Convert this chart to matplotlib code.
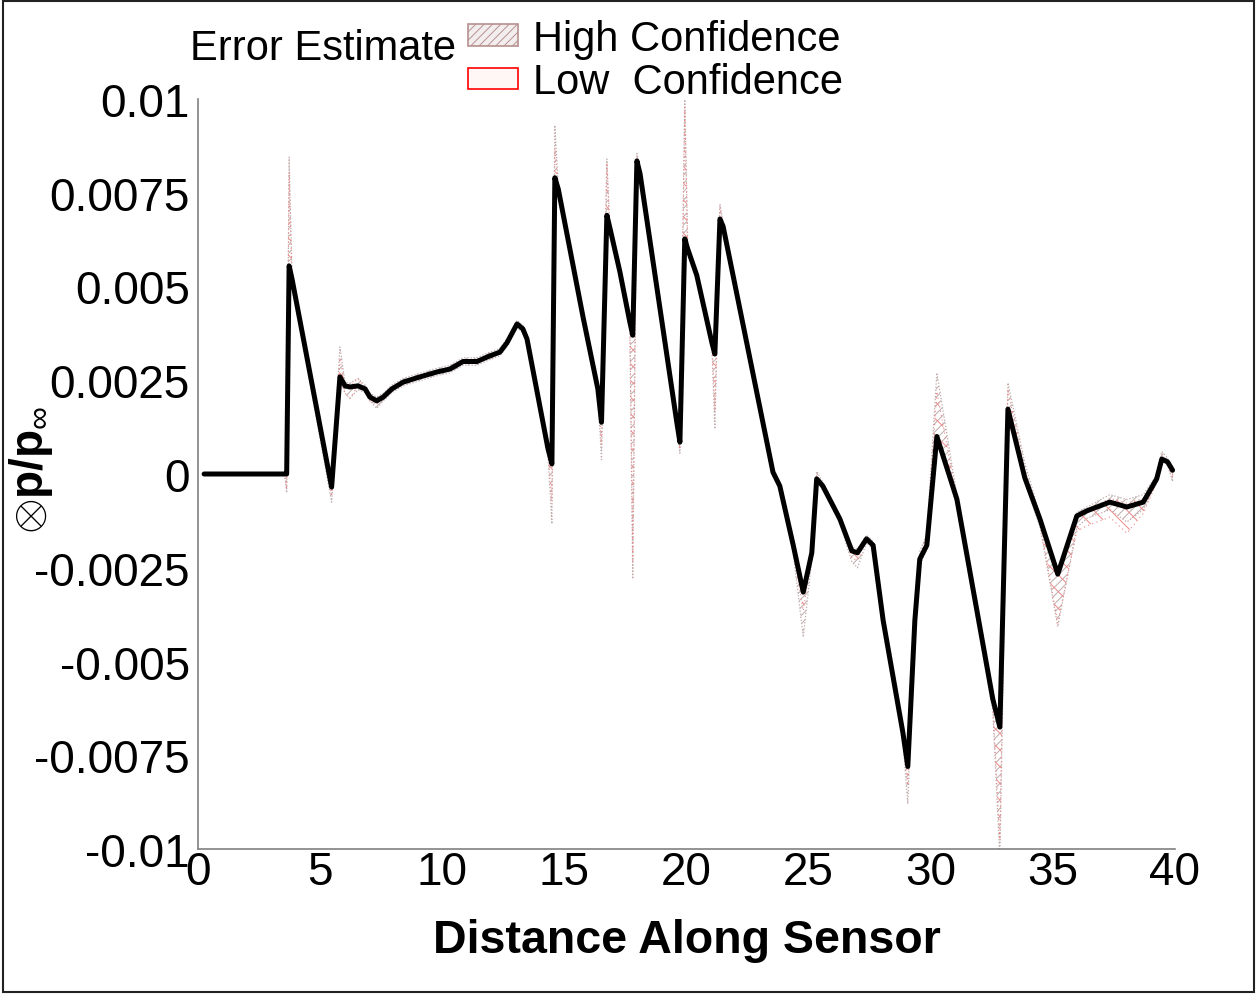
import numpy as np
import matplotlib
matplotlib.use('Agg')
import matplotlib.pyplot as plt
from matplotlib.patches import Patch, Rectangle

plt.rcParams['font.family'] = ['Liberation Sans', 'DejaVu Sans']
plt.rcParams['mathtext.fontset'] = 'custom'
plt.rcParams['mathtext.rm'] = 'Liberation Sans'
plt.rcParams['mathtext.bf'] = 'Liberation Sans:bold'
plt.rcParams['hatch.linewidth'] = 0.7

# sensor position and mean pressure signal
dist = [0.25, 3.55, 3.63, 3.73, 3.85, 5.47, 5.81, 6.02, 6.22, 6.55, 6.84, 7.04, 7.32,
        7.58, 7.94, 8.4, 9.09, 9.78, 10.32, 10.85, 11.42, 11.95, 12.36, 12.65, 13.06,
        13.3, 13.47, 14.33, 14.49, 14.61, 14.75, 15.76, 16.37, 16.52, 16.74, 16.85,
        17.27, 17.68, 17.8, 17.97, 18.1, 19.6, 19.73, 19.93, 20.05, 20.42, 21.04,
        21.16, 21.37, 21.5, 23.54, 23.82, 24.37, 24.78, 25.13, 25.33, 25.58, 26.28,
        26.77, 27.0, 27.37, 27.64, 28.05, 28.86, 29.06, 29.35, 29.55, 29.84, 30.25,
        31.07, 32.54, 32.83, 33.16, 33.85, 34.47, 35.2, 35.98, 36.4, 37.33, 38.03,
        38.7, 39.25, 39.46, 39.7, 39.9]
dp = [0.0, 0.0, 0.0, 0.00555, 0.0052, -0.00035, 0.00259, 0.00235, 0.00232, 0.00235,
      0.00227, 0.00205, 0.00195, 0.00205, 0.00227, 0.00245, 0.00259, 0.00272, 0.0028,
      0.003, 0.003, 0.00315, 0.00325, 0.0035, 0.004, 0.00387, 0.0036, 0.00067, 0.00027,
      0.0079, 0.0076, 0.0042, 0.00227, 0.00138, 0.0069, 0.0066, 0.0054, 0.00405,
      0.0037, 0.00835, 0.008, 0.00139, 0.00085, 0.00627, 0.006, 0.0053, 0.0035,
      0.0032, 0.0068, 0.0066, 0.00005, -0.00032, -0.0019, -0.00315, -0.0021,
      -0.00013, -0.00032, -0.0012, -0.00205, -0.0021, -0.00173, -0.0019, -0.0039,
      -0.0069, -0.0078, -0.0039, -0.00227, -0.0019, 0.001, -0.00067, -0.006, -0.00675,
      0.00173, -0.0001, -0.0012, -0.00267, -0.00112, -0.00098, -0.00075, -0.00088,
      -0.00075, -0.00013, 0.0004, 0.00032, 0.0001]

# high confidence error band (spread below / above the signal)
hi_dn = [0, 0, 0.0005, 0, 0.0001, 0.0004, 0, 0.0002, 0.0003, 0.0001, 0.0001, 0.0001,
         0.0002, 0.0001, 0.0001, 0.0001, 0.0001, 0.0001, 0.0001, 0.0001, 0.0001, 0.0001,
         0.0001, 0.0001, 0.0001, 0.0001, 0.0001, 0.0002, 0.0016, 0, 0.0001, 0.0001,
         0.0001, 0.001, 0, 0.0001, 0.0001, 0.0001, 0.0065, 0, 0.0001, 0.0001, 0.0003, 0,
         0.0001, 0.0001, 0.0001, 0.002, 0, 0.0001, 0.0001, 0.0001, 0.0002, 0.0012,
         0.0002, 0, 0.0001, 0.0001, 0.0003, 0.0004, 0.0001, 0.0001, 0.0002, 0.0002,
         0.001, 0.0002, 0.0002, 0.0001, 0, 0.0002, 0.0003, 0.0035, 0, 0.0001, 0.0002,
         0.0014, 0.0003, 0.0002, 0.0002, 0.0004, 0.0002, 0.0001, 0, 0.0001, 0.0003]
hi_up = [0, 0, 0, 0.0029, 0.0001, 0, 0.0008, 0.0001, 0.0001, 0.0002, 0.0001, 0.0001,
         0.0001, 0.0001, 0.0001, 0.0001, 0.0001, 0.0001, 0.0001, 0.0001, 0.0001, 0.0001,
         0.0001, 0.0001, 0.0001, 0.0001, 0.0001, 0.0001, 0, 0.0014, 0.0001, 0.0001,
         0.0001, 0.0001, 0.0015, 0.0001, 0.0001, 0.0001, 0.0001, 0.0002, 0.0001, 0.0001,
         0.0001, 0.0038, 0.0001, 0.0001, 0.0001, 0.0001, 0.0004, 0.0001, 0.0001, 0.0001,
         0.0001, 0.0001, 0.0001, 0.0002, 0.0001, 0.0001, 0.0001, 0.0001, 0.0001, 0.0001,
         0.0001, 0.0001, 0.0001, 0.0001, 0.0002, 0.0003, 0.0017, 0.0001, 0.0001, 0.0001,
         0.0007, 0.0004, 0.0001, 0.0001, 0.0001, 0.0001, 0.0002, 0.0002, 0.0002, 0.0001,
         0.0002, 0.0001, 0]

# low confidence error band
lo_dn = [0, 0, 0.0004, 0, 0, 0.0002, 0, 0.0002, 0.0003, 0, 0, 0.0001, 0.0001, 0, 0, 0,
         0, 0, 0, 0, 0, 0, 0, 0, 0, 0, 0, 0.0001, 0.001, 0, 0, 0, 0, 0.0006, 0, 0, 0, 0,
         0.006, 0, 0, 0, 0.0002, 0, 0, 0, 0, 0.0015, 0, 0, 0, 0, 0.0001, 0.0005, 0, 0, 0,
         0, 0.0002, 0.0002, 0, 0, 0.0001, 0.0001, 0.0005, 0.0001, 0.0001, 0, 0, 0.0001,
         0.0002, 0.003, 0, 0, 0.0001, 0.0013, 0.0004, 0.0004, 0.0004, 0.0007, 0.0003,
         0.0001, 0, 0, 0.0002]
lo_up = [0, 0, 0, 0.0025, 0, 0, 0.0005, 0, 0, 0.0002, 0, 0, 0, 0, 0, 0, 0, 0, 0, 0, 0,
         0, 0, 0, 0, 0, 0, 0, 0, 0.0008, 0, 0, 0, 0, 0.0014, 0, 0, 0, 0, 0.0001, 0, 0, 0,
         0.0035, 0, 0, 0, 0, 0.0003, 0, 0, 0, 0, 0, 0, 0.0001, 0, 0, 0, 0, 0, 0, 0, 0, 0,
         0, 0.0001, 0.0002, 0.0012, 0, 0, 0, 0.0005, 0.0002, 0, 0, 0, 0, 0.0001, 0.0001,
         0.0001, 0, 0.0001, 0, 0]

yticks = [0.01, 0.0075, 0.005, 0.0025, 0, -0.0025, -0.005, -0.0075, -0.01]
ytick_labels = ['0.01', '0.0075', '0.005', '0.0025', '0', '-0.0025', '-0.005',
                '-0.0075', '-0.01']
xticks = [0, 5, 10, 15, 20, 25, 30, 35, 40]

x = np.array(dist)
y = np.array(dp)

fig = plt.figure(figsize=(12.58, 9.95), dpi=100)
ax = fig.add_axes([198 / 1258, 145 / 995, 977 / 1258, 750 / 995])

# hatched error bands with dotted outlines
ax.fill_between(x, y - np.array(hi_dn), y + np.array(hi_up), facecolor='none',
                edgecolor='#bfaaaa', hatch='////', linewidth=0.9,
                linestyle=(0, (1, 1.5)), zorder=1)
ax.fill_between(x, y - np.array(lo_dn), y + np.array(lo_up), facecolor='none',
                edgecolor='#ee8888', hatch='\\\\', linewidth=0.8,
                linestyle=(0, (1, 3)), zorder=1)
ax.plot(x, y, color='black', lw=3.6, solid_joinstyle='round',
        solid_capstyle='round', zorder=3)

ax.set_xlim(0, 40)
ax.set_ylim(-0.01, 0.01)
ax.set_xticks(xticks)
ax.set_yticks(yticks, ytick_labels)
ax.tick_params(length=0, labelsize=33, pad=6)
ax.tick_params(axis='x', pad=1)
for side in ['top', 'right']:
    ax.spines[side].set_visible(False)
for side in ['left', 'bottom']:
    ax.spines[side].set_color('#808080')
    ax.spines[side].set_linewidth(1.2)

ax.set_xlabel('Distance Along Sensor', fontsize=33.5, fontweight='bold')
ax.xaxis.set_label_coords(0.5, -0.092)
ax.set_ylabel(r'$\otimes\mathbf{p/p}_{\infty}$', fontsize=33)
ax.yaxis.set_label_coords(-0.146, 0.507)

# legend with its title to the left
handles = [Patch(facecolor='#f2eeee', edgecolor='#b89090', hatch='////', lw=1.2),
           Patch(facecolor='#fff6f6', edgecolor='red', lw=1.2)]
fig.legend(handles, ['High Confidence', 'Low  Confidence'], loc='upper left',
           bbox_to_anchor=(468 / 1258, 1 - 20 / 995), frameon=False, fontsize=30,
           borderpad=0, borderaxespad=0, handlelength=1.2, handleheight=0.42,
           handletextpad=0.35, labelspacing=0.08)
fig.text(190 / 1258, 1 - 49 / 995, 'Error Estimate', fontsize=30, ha='left', va='center')

fig.patches.append(Rectangle((0.002, 0.002), 0.995, 0.996, transform=fig.transFigure,
                             fill=False, edgecolor='#222222', lw=1.5))

fig.savefig('out.png', dpi=100)
